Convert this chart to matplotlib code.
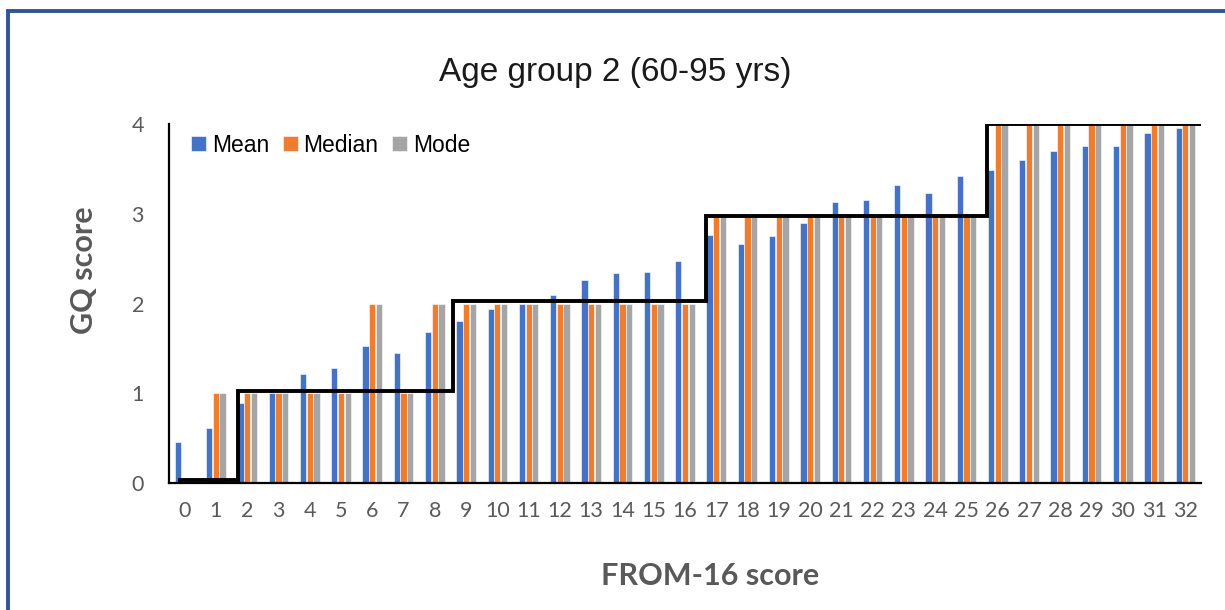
import numpy as np
import matplotlib
matplotlib.use("Agg")
from matplotlib import pyplot as plt
from matplotlib.patches import Rectangle

# FROM-16 score categories
from16 = list(range(33))

gq_mean = [0.46, 0.61, 0.89, 1.00, 1.22, 1.28, 1.53, 1.45, 1.68, 1.81,
           1.94, 2.00, 2.10, 2.26, 2.34, 2.35, 2.47, 2.76, 2.66, 2.75,
           2.90, 3.13, 3.15, 3.32, 3.23, 3.42, 3.49, 3.60, 3.70, 3.76,
           3.76, 3.90, 3.96]
gq_median = [0, 1, 1, 1, 1, 1, 2, 1, 2, 2,
             2, 2, 2, 2, 2, 2, 2, 3, 3, 3,
             3, 3, 3, 3, 3, 3, 4, 4, 4, 4,
             4, 4, 4]
gq_mode = [0, 1, 1, 1, 1, 1, 2, 1, 2, 2,
           2, 2, 2, 2, 2, 2, 2, 3, 3, 3,
           3, 3, 3, 3, 3, 3, 4, 4, 4, 4,
           4, 4, 4]

# black step line (cut-off levels)
step_edges = [-0.21, 1.70, 8.58, 16.66, 25.66, 32.5]
step_levels = [0.03, 1.03, 2.03, 2.98, 4.0]

c_mean = "#4472C4"
c_median = "#ED7D31"
c_mode = "#A5A5A5"
grey = "#595959"

fig = plt.figure(figsize=(12.25, 6.1), dpi=100)
ax = fig.add_axes([169 / 1225, 1 - 483 / 610, (1201 - 169) / 1225, (483 - 124) / 610])

x = np.arange(len(from16))
w = 0.2
off = 0.214
ax.bar(x - off, gq_mean, w, color=c_mean, edgecolor="white", linewidth=0.4, label="Mean")
ax.bar(x, gq_median, w, color=c_median, edgecolor="white", linewidth=0.4, label="Median")
ax.bar(x + off, gq_mode, w, color=c_mode, edgecolor="white", linewidth=0.4, label="Mode")

ax.stairs(step_levels, step_edges, baseline=None, color="black", linewidth=2.8, zorder=5)

ax.set_xlim(-0.5, len(from16) - 0.5)
ax.set_ylim(0, 4)
ax.set_xticks(x)
ax.set_xticklabels([str(v) for v in from16])
ax.set_yticks([0, 1, 2, 3, 4])

for s in ["top", "right"]:
    ax.spines[s].set_visible(False)
ax.spines["left"].set_linewidth(1.6)
ax.spines["bottom"].set_linewidth(1.6)
ax.tick_params(axis="both", length=0, labelsize=15.5, labelcolor=grey)
ax.tick_params(axis="x", pad=13)
ax.tick_params(axis="y", pad=18)
for lab in ax.get_xticklabels() + ax.get_yticklabels():
    lab.set_family("Lato")

ax.legend(ncol=3, loc="center left", bbox_to_anchor=(0.0105, 0.9415), frameon=False,
          borderpad=0, handlelength=0.65, handleheight=0.65, handletextpad=0.25,
          columnspacing=0.6, prop={"family": "Liberation Sans", "size": 16.5})

fig.text(615 / 1225, 1 - 72 / 610, "Age group 2 (60-95 yrs)", ha="center", va="center",
         fontsize=24, family="Liberation Sans", color="#1a1a1a")
fig.text(84 / 1225, 1 - 270 / 610, "GQ score", ha="center", va="center", rotation=90,
         fontsize=22, fontweight="bold", family="Lato", color=grey)
fig.text(710 / 1225, 1 - 576 / 610, "FROM-16 score", ha="center", va="center",
         fontsize=22, fontweight="bold", family="Lato", color=grey)

# outer blue frame of the original figure
fig.patches.append(Rectangle((8 / 1225, -0.1), 1.2, 1 - 11.5 / 610 + 0.1, transform=fig.transFigure,
                             fill=False, edgecolor="#2F5597", linewidth=2.8))

fig.savefig("out.png", dpi=100)
